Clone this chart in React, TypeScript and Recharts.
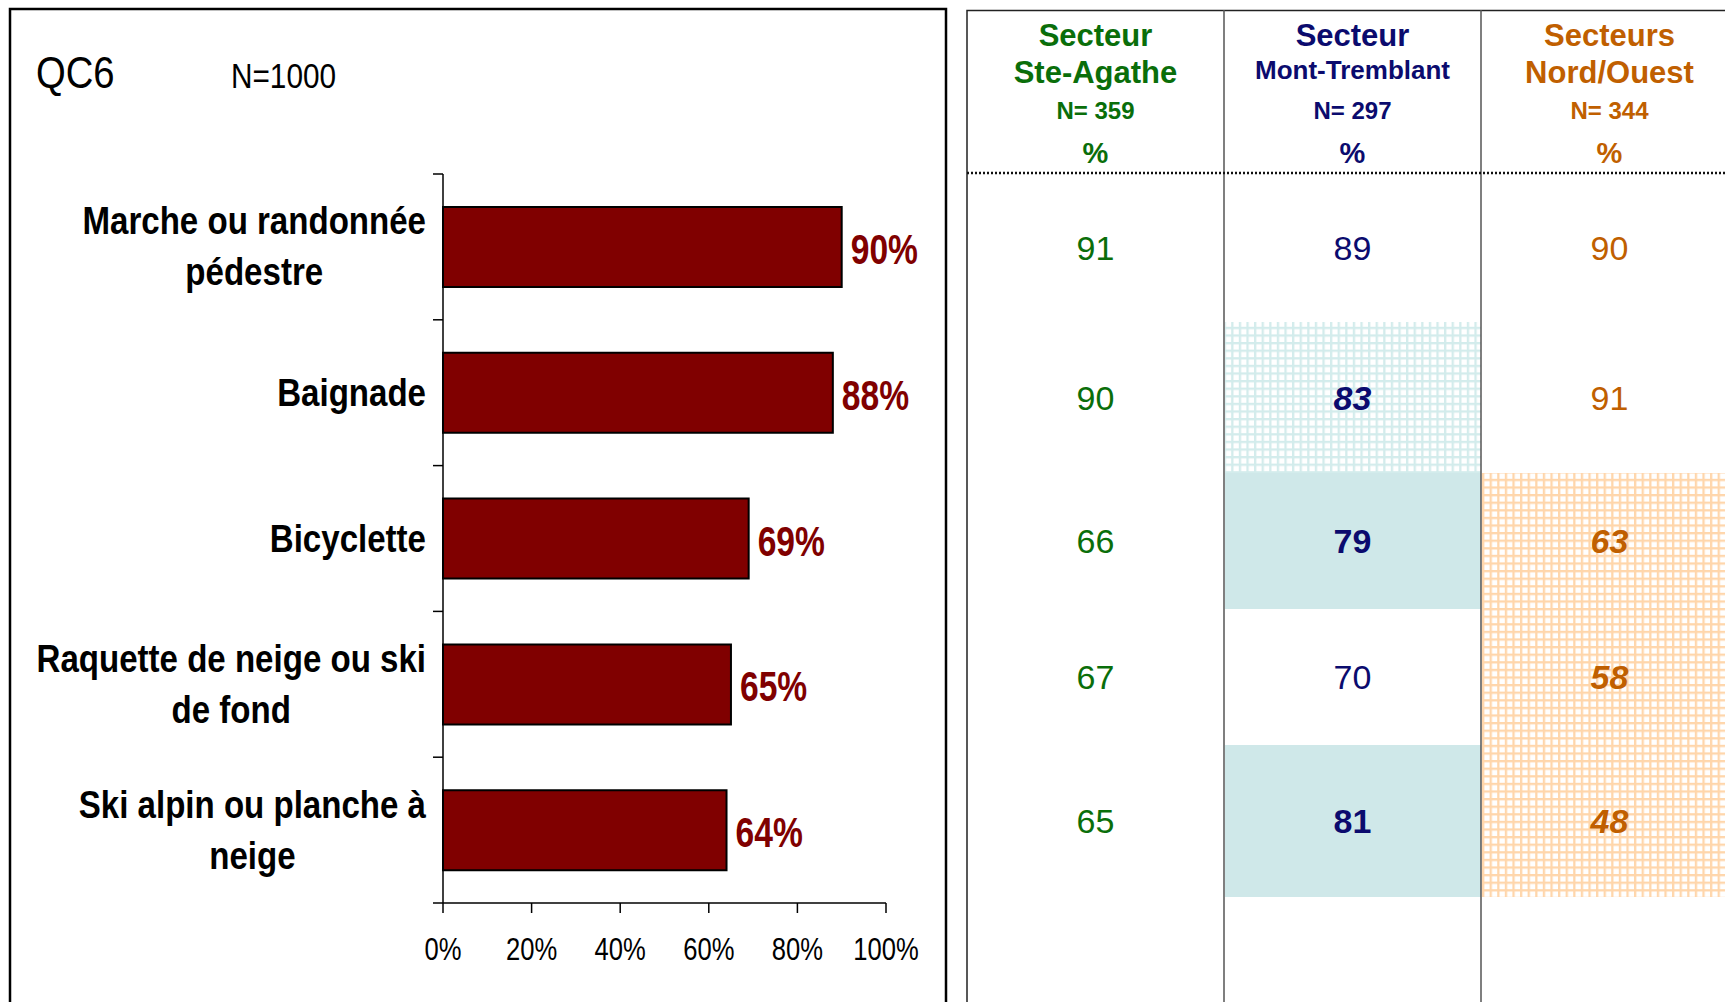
import { BarChart, Bar, XAxis, YAxis, LabelList } from "recharts";

// Activities (line breaks follow the reference wrapping)
const categories = [
  "Marche ou randonnée\npédestre",
  "Baignade",
  "Bicyclette",
  "Raquette de neige ou ski\nde fond",
  "Ski alpin ou planche à\nneige",
];
const totals = [90, 88, 69, 65, 64];
const xTicks = [0, 20, 40, 60, 80, 100];

// Sector table
const sectorTitles = ["Secteur", "Secteur", "Secteurs"];
const sectorNames = ["Ste-Agathe", "Mont-Tremblant", "Nord/Ouest"];
const sectorN = [359, 297, 344];
const steAgathe = [91, 90, 66, 67, 65];
const montTremblant = [89, 83, 79, 70, 81];
const nordOuest = [90, 91, 63, 58, 48];
// "" = plain, "hatch" = lower (hatched, bold italic), "solid" = higher (shaded, bold)
const steAgatheMarks = ["", "", "", "", ""];
const montTremblantMarks = ["", "hatch", "solid", "", "solid"];
const nordOuestMarks = ["", "", "hatch", "hatch", "hatch"];

// no Arial Narrow here: Liberation Sans squeezed horizontally instead
const SANS = '"Liberation Sans", Arial, sans-serif';
const DARK_RED = "#800000";
const COL_COLORS = ["#0a6e0a", "#0b0b6e", "#c05f00"];

const AXIS_X = 443;
const PLOT_TOP = 174;
const PLOT_BOTTOM = 903;
const BAND = (PLOT_BOTTOM - PLOT_TOP) / categories.length;
const LABEL_RIGHT = 426;
const LABEL_SIZE = 38;
const LABEL_SQUEEZE = 0.87;

let measureCtx: CanvasRenderingContext2D | null = null;
function textWidth(s: string) {
  if (!measureCtx) measureCtx = document.createElement("canvas").getContext("2d");
  if (!measureCtx) return s.length * 18;
  measureCtx.font = `bold ${LABEL_SIZE}px ${SANS}`;
  return measureCtx.measureText(s).width * LABEL_SQUEEZE;
}

function Squeezed({ x, y, sx, size, weight, fill, anchor, children }: any) {
  return (
    <text
      transform={`translate(${x},${y}) scale(${sx},1)`}
      textAnchor={anchor || "start"}
      fill={fill}
      style={{ fontFamily: SANS, fontSize: size, fontWeight: weight || "normal" }}
    >
      {children}
    </text>
  );
}

const data = categories.map((name, i) => ({ name, total: totals[i] }));

function CategoryTick(props: any) {
  const { y, payload, index } = props;
  const lines = String(payload.value).split("\n");
  const widest = Math.max(...lines.map(textWidth));
  const cx = LABEL_RIGHT - widest / 2;
  const gap = 51;
  const first = y + 13 - ((lines.length - 1) * gap) / 2;
  return (
    <g>
      <line x1={AXIS_X - 10} x2={AXIS_X} y1={y - BAND / 2} y2={y - BAND / 2} stroke="#000" strokeWidth={1.5} />
      {index === categories.length - 1 && (
        <line x1={AXIS_X - 10} x2={AXIS_X} y1={y + BAND / 2} y2={y + BAND / 2} stroke="#000" strokeWidth={1.5} />
      )}
      {lines.map((l, i) => (
        <Squeezed key={i} x={cx} y={first + i * gap} sx={LABEL_SQUEEZE} size={LABEL_SIZE} weight="bold" fill="#000" anchor="middle">
          {l}
        </Squeezed>
      ))}
    </g>
  );
}

function PercentTick(props: any) {
  const { x, y, payload } = props;
  return (
    <Squeezed x={x} y={y + 47} sx={0.8} size={32} fill="#000" anchor="middle">
      {`${payload.value}%`}
    </Squeezed>
  );
}

function BarValue(props: any) {
  const { x, y, width, height, value } = props;
  return (
    <Squeezed x={x + width + 9} y={y + height / 2 + 17} sx={0.8} size={42} weight="bold" fill={DARK_RED}>
      {`${value}%`}
    </Squeezed>
  );
}

const TABLE_LEFT = 967;
const COL_EDGES = [967, 1224, 1481, 1738];
const ROW_EDGES = [173, 322, 473, 609, 745, 897];
const HEADER_Y = [35, 72, 110, 153];

function SectorTable() {
  const cols = [steAgathe, montTremblant, nordOuest];
  const marks = [steAgatheMarks, montTremblantMarks, nordOuestMarks];
  const hatchColors = ["#d6eded", "#d3ecec", "#ffd6ab"];
  return (
    <svg width={1725} height={1002} style={{ position: "absolute", left: 0, top: 0 }}>
      <defs>
        {hatchColors.map((c, i) => (
          <pattern key={i} id={`hatch${i}`} width={7.6} height={7.6} patternUnits="userSpaceOnUse">
            <rect width={7.6} height={7.6} fill="#fff" />
            <rect width={7.6} height={2.3} fill={c} />
            <rect width={2.3} height={7.6} fill={c} />
          </pattern>
        ))}
      </defs>

      {cols.map((vals, c) =>
        vals.map((v, r) => {
          const m = marks[c][r];
          if (!m) return null;
          return (
            <rect
              key={`bg${c}-${r}`}
              x={COL_EDGES[c] + 1}
              y={ROW_EDGES[r]}
              width={COL_EDGES[c + 1] - COL_EDGES[c] - 1}
              height={ROW_EDGES[r + 1] - ROW_EDGES[r]}
              fill={m === "solid" ? "#cfe8e9" : `url(#hatch${c})`}
            />
          );
        })
      )}

      {/* title */}
      <Squeezed x={36} y={88} sx={0.85} size={45} fill="#000">QC6</Squeezed>
      <Squeezed x={231} y={88} sx={0.85} size={35} fill="#000">N=1000</Squeezed>

      {/* left panel frame */}
      <path d="M10 1010 V9 H946 V1010" fill="none" stroke="#000" strokeWidth={2.5} />

      {/* table frame */}
      <path d={`M${TABLE_LEFT} 1010 V10.5 H1725`} fill="none" stroke="#222" strokeWidth={1.5} />
      {COL_EDGES.slice(1, 3).map((x) => (
        <line key={x} x1={x} x2={x} y1={10} y2={1002} stroke="#555" strokeWidth={1.5} />
      ))}
      <line x1={TABLE_LEFT} x2={1725} y1={173} y2={173} stroke="#111" strokeWidth={2.5} strokeDasharray="2 2" />

      {sectorTitles.map((t, c) => {
        const cx = (COL_EDGES[c] + COL_EDGES[c + 1]) / 2;
        const color = COL_COLORS[c];
        return (
          <g key={c} fill={color} textAnchor="middle">
            <text x={cx} y={HEADER_Y[0]} dominantBaseline="central" style={{ font: `bold 31px ${SANS}` }}>{t}</text>
            <text
              x={cx}
              y={HEADER_Y[1] - (c === 1 ? 2 : 0)}
              dominantBaseline="central"
              style={{ font: `bold ${c === 1 ? 26 : 31}px ${SANS}` }}
            >
              {sectorNames[c]}
            </text>
            <text x={cx} y={HEADER_Y[2]} dominantBaseline="central" style={{ font: `bold 24px ${SANS}` }}>{`N= ${sectorN[c]}`}</text>
            <text x={cx} y={HEADER_Y[3]} dominantBaseline="central" style={{ font: `bold 29px ${SANS}` }}>%</text>
          </g>
        );
      })}

      {cols.map((vals, c) =>
        vals.map((v, r) => {
          const m = marks[c][r];
          const cx = (COL_EDGES[c] + COL_EDGES[c + 1]) / 2;
          const cy = (ROW_EDGES[r] + ROW_EDGES[r + 1]) / 2;
          return (
            <text
              key={`v${c}-${r}`}
              x={cx}
              y={cy}
              textAnchor="middle"
              dominantBaseline="central"
              fill={COL_COLORS[c]}
              style={{
                font: `${m === "hatch" ? "italic " : ""}${m ? "bold " : ""}34px ${SANS}`,
              }}
            >
              {v}
            </text>
          );
        })
      )}
    </svg>
  );
}

export default function App() {
  return (
    <div style={{ position: "absolute", left: 0, top: 0, width: 1725, height: 1002, background: "#fff", overflow: "hidden" }}>
      <div style={{ position: "absolute", left: 0, top: 0 }}>
        <BarChart
          width={946}
          height={1002}
          data={data}
          layout="vertical"
          margin={{ top: PLOT_TOP, right: 60, bottom: 1002 - PLOT_BOTTOM - 60, left: 0 }}
        >
          <XAxis
            type="number"
            domain={[0, 100]}
            ticks={xTicks}
            axisLine={{ stroke: "#000", strokeWidth: 1.5 }}
            tickLine={{ stroke: "#000", strokeWidth: 1.5 }}
            tickSize={10}
            tickMargin={0}
            height={60}
            tick={<PercentTick />}
          />
          <YAxis
            type="category"
            dataKey="name"
            width={AXIS_X}
            interval={0}
            axisLine={{ stroke: "#000", strokeWidth: 1.5 }}
            tickLine={false}
            tick={<CategoryTick />}
          />
          <Bar dataKey="total" fill={DARK_RED} stroke="#000" strokeWidth={2} barSize={80} isAnimationActive={false}>
            <LabelList dataKey="total" content={<BarValue />} />
          </Bar>
        </BarChart>
      </div>
      <SectorTable />
    </div>
  );
}
